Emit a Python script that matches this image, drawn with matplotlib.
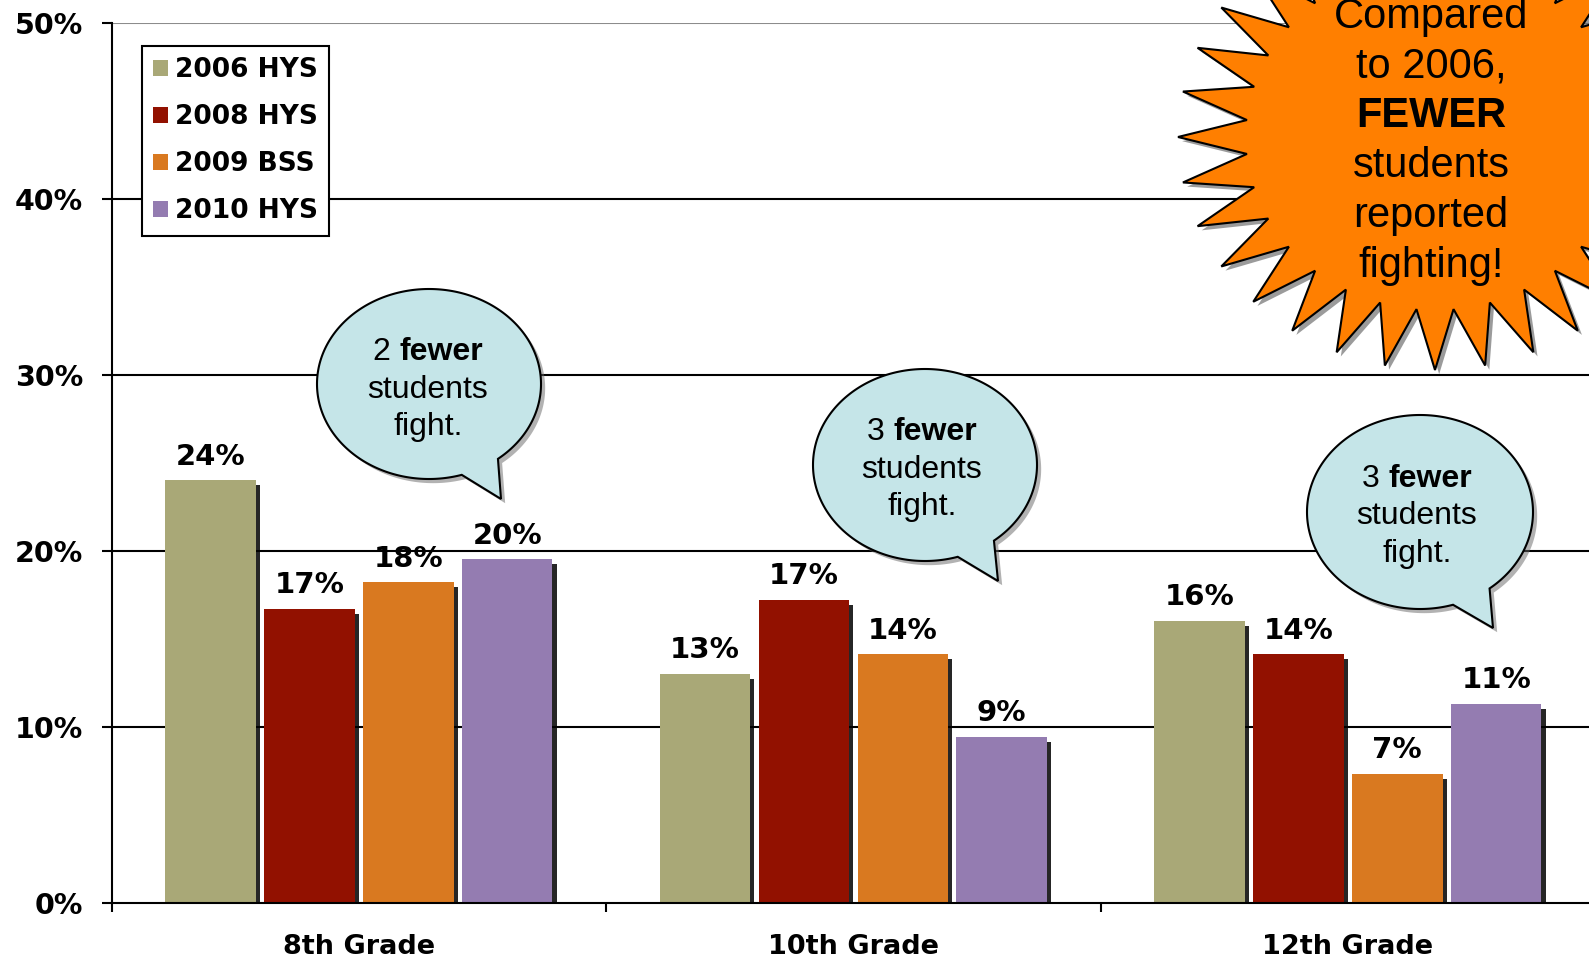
import numpy as np
import matplotlib.pyplot as plt
from matplotlib.patches import Polygon, Patch
from matplotlib import patheffects as pe

# data
grades = ['8th Grade', '10th Grade', '12th Grade']
series = ['2006 HYS', '2008 HYS', '2009 BSS', '2010 HYS']
hys_2006 = [24.0, 13.0, 16.0]
hys_2008 = [16.7, 17.2, 14.1]
bss_2009 = [18.2, 14.1, 7.3]
hys_2010 = [19.5, 9.4, 11.3]
labels_2006 = ['24%', '13%', '16%']
labels_2008 = ['17%', '17%', '14%']
labels_2009 = ['18%', '14%', '7%']
labels_2010 = ['20%', '9%', '11%']
y_ticks = [0, 10, 20, 30, 40, 50]
y_tick_labels = ['0%', '10%', '20%', '30%', '40%', '50%']

colors = ['#A9A877', '#921100', '#D97920', '#947CB1']
bubble_fill = '#C5E5E8'
star_fill = '#FF7F00'

W, H = 1589, 960
fig = plt.figure(figsize=(W / 100, H / 100), dpi=100)
# axes runs past the right edge of the picture, like the original slide
ax = fig.add_axes([111.6 / W, (H - 902.5) / H, 3 * 494.5 / W, (902.5 - 22.7) / H])

x = np.arange(len(grades))
offsets = [-0.3, -0.1, 0.1, 0.3]
all_vals = [hys_2006, hys_2008, bss_2009, hys_2010]
all_labels = [labels_2006, labels_2008, labels_2009, labels_2010]

shadow = [pe.SimplePatchShadow(offset=(3, -3.5), shadow_rgbFace='k', alpha=0.85), pe.Normal()]
for vals, labs, col, name, off in zip(all_vals, all_labels, colors, series, offsets):
    bars = ax.bar(x + off, vals, 0.183, color=col, label=name, zorder=3)
    for b, lab in zip(bars, labs):
        b.set_path_effects(shadow)
        ax.annotate(lab, (b.get_x() + b.get_width() / 2, b.get_height()),
                    xytext=(0, 17), textcoords='offset points',
                    ha='center', va='center', fontsize=21, fontweight='bold')

for yv in y_ticks[1:]:
    ax.axhline(yv, color='k' if yv < 50 else '#8c8c8c', lw=1.5, zorder=1)

ax.set_xlim(-0.5, 2.5)
ax.set_ylim(0, 50)
ax.set_yticks(y_ticks)
ax.set_yticklabels(y_tick_labels, fontsize=20.5, fontweight='bold')
ax.tick_params(axis='y', length=7, width=1.5, pad=13.5)
ax.set_xticks(x)
ax.set_xticklabels(grades, fontsize=19.5, fontweight='bold')
ax.tick_params(axis='x', which='major', length=0, pad=23)
ax.set_xticks([-0.5, 0.5, 1.5, 2.5], minor=True)
ax.tick_params(axis='x', which='minor', length=6.5, width=1.5)
for s in ['top', 'right']:
    ax.spines[s].set_visible(False)
for s in ['left', 'bottom']:
    ax.spines[s].set_linewidth(1.5)
    ax.spines[s].set_zorder(4)

handles = [Patch(facecolor=c, edgecolor='none') for c in colors]
leg = ax.legend(handles, series, loc='upper left', bbox_to_anchor=(142 / W, 1 - 46 / H),
                bbox_transform=fig.transFigure, borderaxespad=0, fancybox=False,
                framealpha=1, edgecolor='k', handlelength=0.57, handleheight=0.57,
                handletextpad=0.27, labelspacing=0.8, borderpad=0.42,
                prop={'size': 19, 'weight': 'bold'})
leg.get_frame().set_linewidth(1.5)

# overlay in pixel coordinates for the callouts
ov = fig.add_axes([0, 0, 1, 1])
ov.set_xlim(0, W)
ov.set_ylim(H, 0)
ov.axis('off')
renderer = fig.canvas.get_renderer()


def rich_line(cx, y, parts, size, family='Liberation Sans'):
    texts = [ov.text(0, y, s, fontsize=size, fontweight=w, family=family,
                     ha='left', va='baseline') for s, w in parts]
    widths = [t.get_window_extent(renderer).width for t in texts]
    gap = 0.278 * size * 100 / 72
    total = sum(widths) + gap * (len(parts) - 1)
    xx = cx - total / 2
    for t, w in zip(texts, widths):
        t.set_x(xx)
        xx += w + gap


def bubble(cx, cy, a, b, t0, t1, tip, lines, tx, base):
    th = np.linspace(np.deg2rad(t1), np.deg2rad(t0) + 2 * np.pi, 300)
    pts = np.column_stack([cx + a * np.cos(th), cy + b * np.sin(th)])
    pts = np.vstack([pts, tip])
    ov.add_patch(Polygon(pts, closed=True, fc=bubble_fill, ec='k', lw=1.5,
                         path_effects=[pe.SimplePatchShadow(offset=(3, -3), shadow_rgbFace='0.4', alpha=0.5),
                                       pe.Normal()]))
    for i, parts in enumerate(lines):
        rich_line(tx, base + i * 37.5, parts, 23)


def callout(n):
    return [[(n, 'normal'), ('fewer', 'bold')], [('students', 'normal')], [('fight.', 'normal')]]


bubble(429, 384, 112, 95, 52, 73, (501, 499), callout('2'), 428, 360)
bubble(925, 465, 112, 96, 52, 73, (998, 581), callout('3'), 922, 440)
bubble(1420, 512, 113, 97, 52, 73, (1493, 628), callout('3'), 1417, 487)

# starburst
scx, scy, rx, ry, irx, iry = 1435, 137, 257, 233, 189, 173
pts = []
for k in range(32):
    t = np.deg2rad(90 + 11.25 * k)
    pts.append((scx + rx * np.cos(t), scy + ry * np.sin(t)))
    t2 = t + np.deg2rad(5.625)
    pts.append((scx + irx * np.cos(t2), scy + iry * np.sin(t2)))
ov.add_patch(Polygon(pts, closed=True, fc=star_fill, ec='k', lw=1.5,
                     path_effects=[pe.SimplePatchShadow(offset=(3, -3), shadow_rgbFace='0.35', alpha=0.6),
                                   pe.Normal()]))
star_lines = [[('Compared', 'normal')], [('to 2006,', 'normal')], [('FEWER', 'bold')],
              [('students', 'normal')], [('reported', 'normal')], [('fighting!', 'normal')]]
for i, parts in enumerate(star_lines):
    rich_line(1431, 28 + i * 49.7, parts, 30)

fig.savefig('out.png', dpi=100)
